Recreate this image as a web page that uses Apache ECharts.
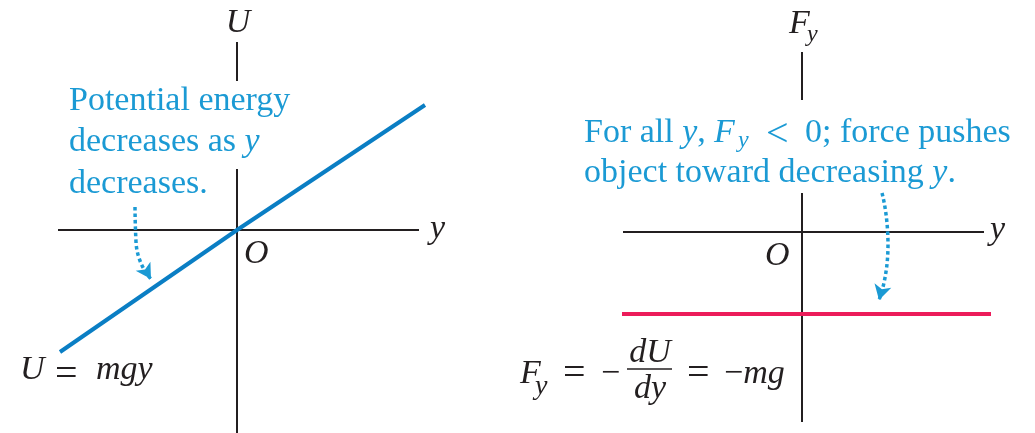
<!DOCTYPE html>
<html><head><meta charset="utf-8">
<script src="https://cdn.jsdelivr.net/npm/echarts@6/dist/echarts.min.js"></script>
<style>html,body{margin:0;padding:0;background:#fff}#c{width:1035px;height:433px}</style>
</head><body><div id="c"></div>
<script>
// ---------- data (in axis units, 1 unit = 10 px) ----------
const uPosY = [-17.7, 0, 18.8];        // horizontal variable y, left plot
const uValues = [-12.2, 0, 12.5];      // U = mgy
const fPosY = [-18.0, 18.9];           // horizontal variable y, right plot
const fValues = [-8.2, -8.2];          // Fy = -mg (constant)
const leftAxisH = [-17.9, 18.2];
const leftAxisVTop = [18.8, 14.9];
const leftAxisVBottom = [6.1, -21];
const rightAxisH = [-17.9, 18.2];
const rightAxisVTop = [18.0, 13.2];
const rightAxisVBottom = [3.9, -19.0];
const leftArrowX = [-10.2, -10.1, -8.6];
const leftArrowY = [2.3, -1.2, -4.9];
const rightArrowX = [8.0, 8.6, 7.7];
const rightArrowY = [3.9, -1.3, -6.8];

const BLACK = '#231f20', BLUE_LINE = '#0a7ec4', BLUE_TEXT = '#1b9ad4', RED = '#ec1c5a';
const FONT = '"Liberation Serif","Times New Roman",serif';

function pts(xs, ys) { return xs.map((x, i) => [x, ys[i]]); }
function seg(gi, data, color, width) {
  return { type: 'line', xAxisIndex: gi, yAxisIndex: gi, data: data, symbol: 'none', clip: false,
    silent: true, animation: false, lineStyle: { color: color, width: width, cap: 'butt' } };
}
function arrow(gi, xs, ys, rot) {
  const d = pts(xs, ys).map((p, i, a) => i === a.length - 1
    ? { value: p, symbol: 'arrow', symbolSize: [13, 15], symbolRotate: rot, itemStyle: { color: BLUE_TEXT } }
    : { value: p, symbol: 'none' });
  return { type: 'line', xAxisIndex: gi, yAxisIndex: gi, data: d, smooth: 0.6, clip: false, silent: true,
    animation: false, showAllSymbol: true,
    lineStyle: { color: BLUE_TEXT, width: 3.5, type: [3.5, 3], cap: 'butt' } };
}

// ---------- text helpers ----------
const mc = document.createElement('canvas').getContext('2d');
function fontStr(size, italic) { return (italic ? 'italic ' : '') + size + 'px ' + FONT; }
function tw(t, size, italic) { mc.font = fontStr(size, italic); return mc.measureText(t).width; }
function midOff(size, italic) {
  mc.font = fontStr(size, italic);
  mc.textBaseline = 'alphabetic'; const a = mc.measureText('H').actualBoundingBoxAscent;
  mc.textBaseline = 'middle'; const b = mc.measureText('H').actualBoundingBoxAscent;
  mc.textBaseline = 'alphabetic'; return a - b;
}
function txt(t, x, base, size, italic, color, align) {
  return { type: 'text', x: x, y: base - midOff(size, italic), silent: true, z: 10,
    style: { text: t, font: fontStr(size, italic), fill: color || BLACK,
      align: align || 'left', textAlign: align || 'left', verticalAlign: 'middle', textVerticalAlign: 'middle' } };
}
function run(x, base, segs, color) {
  const out = []; let cx = x;
  segs.forEach(s => {
    const size = s.size || 34, it = !!s.i;
    const px = (s.x !== undefined) ? s.x : cx;
    out.push(txt(s.t, px, base + (s.dy || 0), size, it, color));
    cx = px + tw(s.t, size, it) + (s.gap || 0);
  });
  return out;
}

const texts = [].concat(
  // left panel
  [txt('U', 238, 32, 34, true, BLACK, 'center')],
  [txt('y', 430, 238, 34, true)],
  [txt('O', 244, 263, 34, true)],
  [txt('U', 20, 379, 34, true), txt('=', 55, 386, 40, false), txt('mgy', 96, 379, 34, true)],
  run(69, 110, [{ t: 'Potential energy' }], BLUE_TEXT),
  run(69, 151, [{ t: 'decreases as ' }, { t: 'y', i: 1 }], BLUE_TEXT),
  run(69, 193, [{ t: 'decreases.' }], BLUE_TEXT),
  // right panel
  [txt('F', 789, 33, 34, true), txt('y', 807, 41, 24, true)],
  [txt('y', 990, 239, 34, true)],
  [txt('O', 765, 265, 34, true)],
  run(584, 142, [{ t: 'For all ' }, { t: 'y', i: 1 }, { t: ',' },
    { t: 'F', i: 1, x: 714 }, { t: 'y', i: 1, size: 24, dy: 5, x: 738 },
    { t: '<', size: 40, dy: 4, x: 766 }, { t: '0; force pushes', x: 805 }], BLUE_TEXT),
  run(584, 182, [{ t: 'object toward decreasing ' }, { t: 'y', i: 1 }, { t: '.' }], BLUE_TEXT),
  [txt('F', 520, 383, 34, true), txt('y', 535, 394, 28, true), txt('=', 563, 385, 40),
   txt('\u2212', 601, 383, 34), txt('dU', 650, 362, 34, true, BLACK, 'center'),
   txt('dy', 650, 398, 34, true, BLACK, 'center'), txt('=', 687, 385, 40)],
  run(724, 383, [{ t: '\u2212' }, { t: 'mg', i: 1 }], BLACK),
  [{ type: 'line', silent: true, shape: { x1: 627, y1: 369, x2: 672, y2: 369 }, style: { stroke: BLACK, lineWidth: 1.6 } }]
);

const chart = echarts.init(document.getElementById('c'), null, { renderer: 'canvas' });
chart.setOption({
  animation: false,
  backgroundColor: '#ffffff',
  grid: [{ left: 37, top: 30, width: 400, height: 400 }, { left: 602, top: 32, width: 400, height: 400 }],
  xAxis: [{ type: 'value', gridIndex: 0, min: -20, max: 20, show: false },
          { type: 'value', gridIndex: 1, min: -20, max: 20, show: false }],
  yAxis: [{ type: 'value', gridIndex: 0, min: -20, max: 20, show: false },
          { type: 'value', gridIndex: 1, min: -20, max: 20, show: false }],
  series: [
    seg(0, [[leftAxisH[0], 0], [leftAxisH[1], 0]], BLACK, 2),
    seg(0, [[0, leftAxisVTop[0]], [0, leftAxisVTop[1]]], BLACK, 2),
    seg(0, [[0, leftAxisVBottom[0]], [0, leftAxisVBottom[1]]], BLACK, 2),
    seg(0, pts(uPosY, uValues), BLUE_LINE, 4),
    arrow(0, leftArrowX, leftArrowY, -148),
    seg(1, [[rightAxisH[0], 0], [rightAxisH[1], 0]], BLACK, 2),
    seg(1, [[0, rightAxisVTop[0]], [0, rightAxisVTop[1]]], BLACK, 2),
    seg(1, [[0, rightAxisVBottom[0]], [0, rightAxisVBottom[1]]], BLACK, 2),
    seg(1, pts(fPosY, fValues), RED, 4),
    arrow(1, rightArrowX, rightArrowY, 165)
  ],
  graphic: texts
});
</script></body></html>
